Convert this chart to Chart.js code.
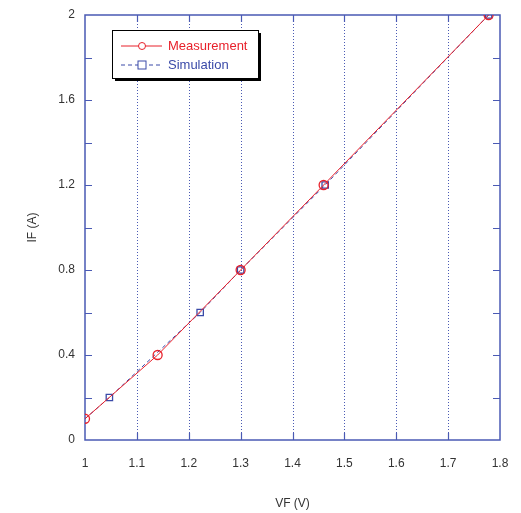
<!DOCTYPE html>
<html>
<head>
<meta charset="utf-8">
<script src="https://cdn.jsdelivr.net/npm/chart.js@4.4.0/dist/chart.umd.min.js"></script>
<style>
  html, body { margin: 0; padding: 0; background: #fff; }
  #wrap { width: 521px; height: 513px; }
</style>
</head>
<body>
<div id="wrap"><canvas id="chart" width="521" height="513"></canvas></div>
<script>
// data
const measVF = [1.0, 1.14, 1.30, 1.46, 1.778];
const measIF = [0.1, 0.4, 0.8, 1.2, 2.0];
const simVF = [1.0, 1.047, 1.222, 1.30, 1.463, 1.778];
const simIF = [0.1, 0.2, 0.6, 0.8, 1.2, 2.0];
const simMarker = [0, 4.5, 4.5, 4.5, 4.5, 4.5];

const RED = '#e8212b'
const BLUE = '#3a4aa8'
const FRAME = '#4a5ab4'

const toPts = (xs, ys) => xs.map((x, i) => ({ x: x, y: ys[i] }))

// frame, dotted grid and inward ticks
const framePlugin = {
    id: 'frame',
    beforeDatasetsDraw(chart) {
        const { ctx, chartArea: a, scales } = chart
        const xs = scales.x, ys = scales.y
        ctx.save()
        ctx.strokeStyle = FRAME
        ctx.lineWidth = 1
        ctx.setLineDash([1, 2])
        for (let v = 1.1; v < 1.75; v += 0.1) {
            const px = Math.round(xs.getPixelForValue(v)) + 0.5
            ctx.beginPath()
            ctx.moveTo(px, a.top)
            ctx.lineTo(px, a.bottom)
            ctx.stroke()
        }
        ctx.setLineDash([])
        ctx.lineWidth = 1.5
        ctx.strokeRect(a.left, a.top, a.right - a.left, a.bottom - a.top)
        ctx.lineWidth = 1.2
        for (let v = 0.2; v < 1.95; v += 0.2) {
            const py = Math.round(ys.getPixelForValue(v)) + 0.5
            ctx.beginPath()
            ctx.moveTo(a.left, py); ctx.lineTo(a.left + 7, py)
            ctx.moveTo(a.right, py); ctx.lineTo(a.right - 7, py)
            ctx.stroke()
        }
        for (let v = 1.1; v < 1.75; v += 0.1) {
            const px = Math.round(xs.getPixelForValue(v)) + 0.5
            ctx.beginPath()
            ctx.moveTo(px, a.bottom); ctx.lineTo(px, a.bottom - 7)
            ctx.moveTo(px, a.top); ctx.lineTo(px, a.top + 7)
            ctx.stroke()
        }
        ctx.restore()
    }
}

// boxed legend with shadow inside the plot
const legendPlugin = {
    id: 'boxLegend',
    afterDraw(chart) {
        const { ctx } = chart
        const bx = 112, by = 30, bw = 146, bh = 48
        ctx.save()
        ctx.fillStyle = '#000'
        ctx.fillRect(bx + 3, by + 3, bw, bh)
        ctx.fillStyle = '#fff'
        ctx.fillRect(bx, by, bw, bh)
        ctx.strokeStyle = '#000'
        ctx.lineWidth = 1
        ctx.strokeRect(bx + 0.5, by + 0.5, bw, bh)

        ctx.font = '13px "Liberation Sans", Arial, sans-serif'
        ctx.textBaseline = 'middle'
        chart.data.datasets.forEach((ds, i) => {
            const y = by + 16 + i * 19
            ctx.strokeStyle = ds.borderColor
            ctx.lineWidth = 1
            ctx.setLineDash(ds.borderDash || [])
            ctx.beginPath()
            ctx.moveTo(bx + 9, y); ctx.lineTo(bx + 50, y)
            ctx.stroke()
            ctx.setLineDash([])
            ctx.fillStyle = '#fff'
            if (ds.pointStyle === 'circle') {
                ctx.beginPath()
                ctx.arc(bx + 30, y, 3.5, 0, Math.PI * 2)
                ctx.fill(); ctx.stroke()
            } else {
                ctx.fillRect(bx + 26, y - 4, 8, 8)
                ctx.strokeRect(bx + 26, y - 4, 8, 8)
            }
            ctx.fillStyle = ds.borderColor
            ctx.fillText(ds.label, bx + 56, y)
        })
        ctx.restore()
    }
}

new Chart(document.getElementById('chart'), {
    type: 'scatter',
    data: {
        datasets: [
            {
                label: 'Measurement',
                data: toPts(measVF, measIF),
                showLine: true,
                borderColor: RED,
                backgroundColor: 'rgba(0,0,0,0)',
                borderWidth: 1,
                pointStyle: 'circle',
                pointRadius: 4.5,
                pointBorderWidth: 1.3,
                order: 1
            },
            {
                label: 'Simulation',
                data: toPts(simVF, simIF),
                showLine: true,
                borderColor: BLUE,
                backgroundColor: 'rgba(0,0,0,0)',
                borderWidth: 1,
                borderDash: [4, 3],
                pointStyle: 'rect',
                pointRadius: simMarker,
                pointBorderWidth: 1.3,
                order: 2
            }
        ]
    },
    options: {
        responsive: false,
        animation: false,
        events: [],
        layout: { padding: { top: 15, right: 21, left: 0, bottom: 0 } },
        plugins: { legend: { display: false }, tooltip: { enabled: false } },
        scales: {
            x: {
                type: 'linear',
                min: 1, max: 1.8,
                grid: { display: false, drawTicks: false },
                border: { display: false },
                ticks: {
                    stepSize: 0.1,
                    padding: 16,
                    color: '#333',
                    font: { family: '"Liberation Sans", Arial, sans-serif', size: 12 },
                    callback: v => String(+v.toFixed(1))
                },
                title: {
                    display: true, text: 'VF (V)', color: '#333',
                    font: { family: '"Liberation Sans", Arial, sans-serif', size: 12 },
                    padding: { top: 0, bottom: 2 }
                },
                afterFit: s => { s.height = 73; s.paddingLeft = 0; s.paddingRight = 0 }
            },
            y: {
                type: 'linear',
                min: 0, max: 2,
                grid: { display: false, drawTicks: false },
                border: { display: false },
                ticks: {
                    stepSize: 0.4,
                    padding: 10,
                    color: '#333',
                    font: { family: '"Liberation Sans", Arial, sans-serif', size: 12 },
                    callback: v => String(+v.toFixed(1))
                },
                title: {
                    display: true, text: 'IF (A)', color: '#333',
                    font: { family: '"Liberation Sans", Arial, sans-serif', size: 12 },
                    padding: { top: 25, bottom: 0 }
                },
                afterFit: s => { s.width = 85; s.paddingTop = 0; s.paddingBottom = 0 }
            }
        }
    },
    plugins: [framePlugin, legendPlugin]
});
</script>
</body>
</html>
